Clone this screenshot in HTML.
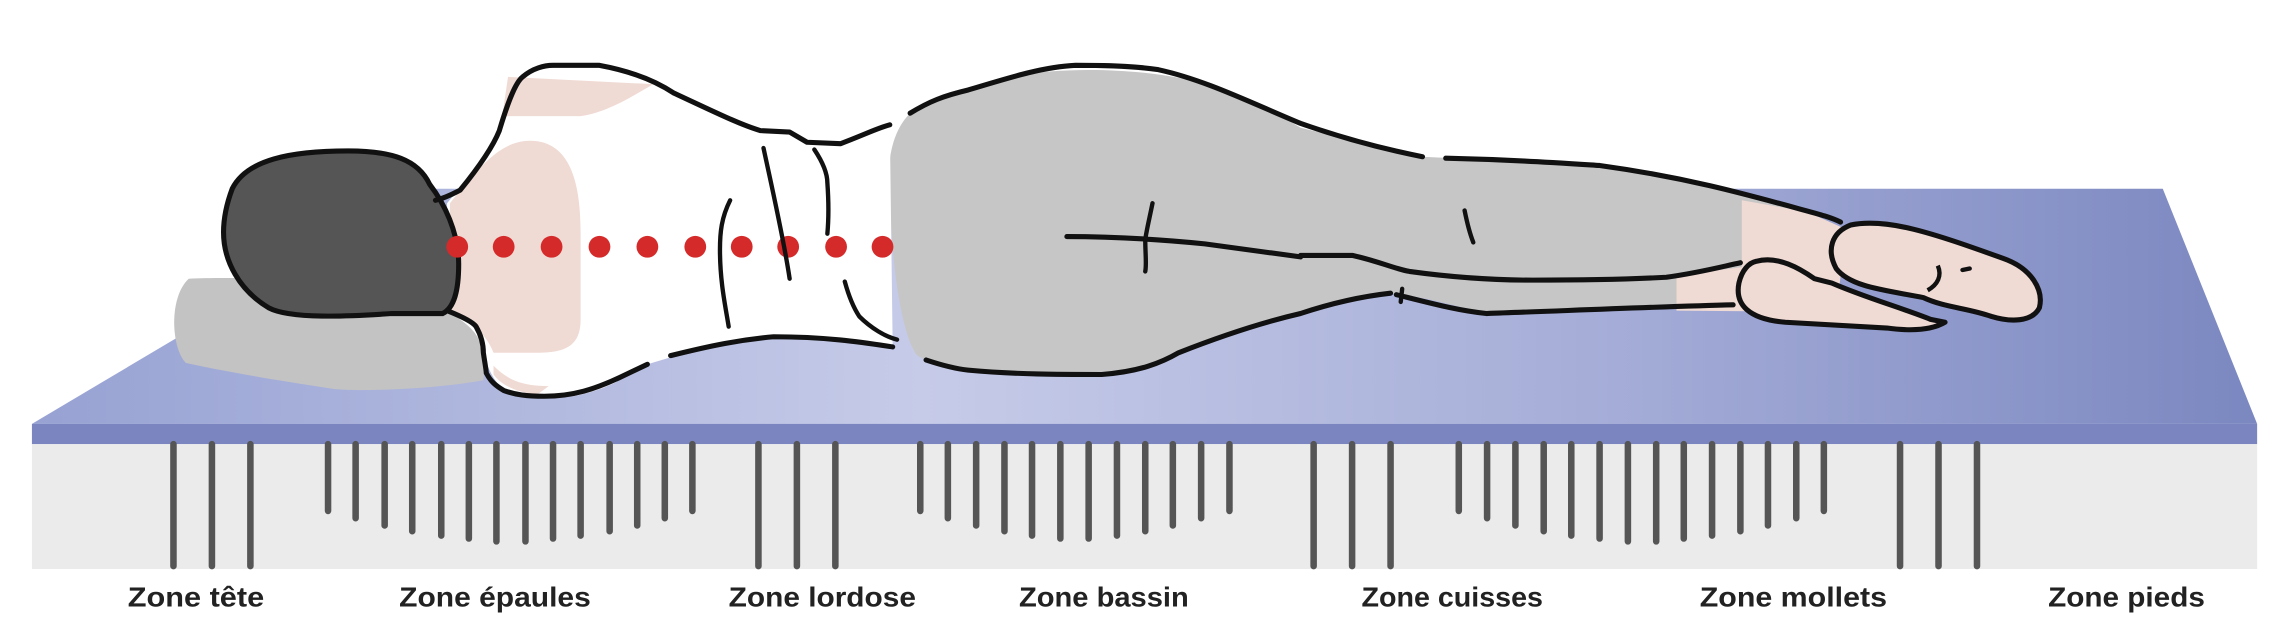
<!DOCTYPE html>
<html><head><meta charset="utf-8"><style>html,body{margin:0;padding:0;background:#fff;}svg{display:block}</style></head>
<body>
<svg width="2276" height="642" viewBox="0 0 1568 442.3" preserveAspectRatio="none" xmlns="http://www.w3.org/2000/svg">
<defs>
<linearGradient id="top" x1="0" x2="1" y1="0" y2="0">
<stop offset="0" stop-color="#97a2d3"/><stop offset="0.4" stop-color="#c6cbe8"/><stop offset="0.7" stop-color="#a6aed8"/><stop offset="1" stop-color="#7b87c0"/>
</linearGradient>
</defs>
<polygon points="295,130 1490,130 1555,292 22,292" fill="url(#top)"/>
<rect x="22" y="292" width="1533" height="14" fill="#7b86c0"/>
<rect x="22" y="306" width="1533" height="86" fill="#ebebeb"/>
<g stroke="#555" stroke-width="4.5" stroke-linecap="round" fill="none">
<path d="M119.5,306V390M146,306V390M172.5,306V390M522.5,306V390M549,306V390M575.5,306V390M905,306V390M931.5,306V390M958,306V390M1309,306V390M1335.5,306V390M1362,306V390"/>
<path d="M226,306V352M245,306V357M265,306V362M284,306V366M304,306V369M323,306V371M342,306V373M362,306V373M381,306V371M400,306V369M420,306V366M439,306V362M458,306V357M477,306V352"/>
<path d="M634,306V352M653,306V357M672.5,306V362M692,306V366M711,306V369M730.5,306V371M750,306V371M769.5,306V369M789,306V366M808,306V362M827.5,306V357M847,306V352"/>
<path d="M1005,306V352M1024.5,306V357M1044,306V362M1063.5,306V366M1082.5,306V369M1102,306V371M1121.5,306V373M1141,306V373M1160,306V371M1179.5,306V369M1199,306V366M1218,306V362M1237.5,306V357M1256.5,306V352"/>
</g>
<g font-family="Liberation Sans, sans-serif" font-weight="bold" font-size="19" fill="#222">
<text x="88" y="418" textLength="94" lengthAdjust="spacingAndGlyphs">Zone tête</text>
<text x="275" y="418" textLength="132" lengthAdjust="spacingAndGlyphs">Zone épaules</text>
<text x="502" y="418" textLength="129" lengthAdjust="spacingAndGlyphs">Zone lordose</text>
<text x="702" y="418" textLength="117" lengthAdjust="spacingAndGlyphs">Zone bassin</text>
<text x="938" y="418" textLength="125" lengthAdjust="spacingAndGlyphs">Zone cuisses</text>
<text x="1171" y="418" textLength="129" lengthAdjust="spacingAndGlyphs">Zone mollets</text>
<text x="1411" y="418" textLength="108" lengthAdjust="spacingAndGlyphs">Zone pieds</text>
</g>
<!-- pillow -->
<path d="M130,192 C180,190 280,195 320,205 C335,215 335,240 333,262 C300,268 250,270 230,268 C190,262 150,255 128,250 C118,240 116,205 130,192 Z" fill="#c3c3c3"/>
<!-- legs gray -->
<path d="M627,78 C640,70 667,62 700,52 C741,45 798,48 830,58 C860,68 880,78 896,88 L980,108 L1102,114 C1150,122 1200,135 1240,144 L1240,212 L1194,210 C1100,213 1060,216 1024,216 C1000,210 980,204 962,203 L958,202 C930,205 910,210 896,216 C850,230 812,243 790,252 C770,258 720,258 667,255 C650,252 640,250 632,245 C620,230 612,170 613,110 C615,95 620,85 627,78 Z" fill="#c6c6c6"/>
<!-- ankles skin -->
<path d="M1200,138 L1245,146 L1272,158 L1265,215 L1155,214 L1155,190 L1200,184 Z" fill="#f0dad4"/>
<!-- torso -->
<path d="M308,140 C325,120 340,95 350,70 C355,52 365,45 381,45 L413,45 C440,50 464,64 490,75 C510,85 524,90 544,91 L556,98 L579,99 L613,86 L615,239 C590,236 560,232 533,232 C500,236 475,242 446,251 C430,260 420,268 395,273 C375,273 360,270 347,269 C338,260 335,250 333,243 C330,230 325,225 308,214 Z" fill="#fff"/>
<path d="M350,53 L450,58 C430,70 415,78 400,80 L346,80 Z" fill="#f0dad4"/>
<path d="M310,140 C330,115 345,97 365,97 C390,97 400,120 400,160 L400,220 C400,238 390,243 370,243 L340,243 C335,230 325,222 310,216 Z" fill="#f0dad4"/>
<path d="M340,252 C350,262 360,266 378,266 L370,272 C355,270 345,265 340,258 Z" fill="#f0dad4"/>
<!-- head -->
<path d="M160,130 C170,110 200,104 240,104 C270,104 288,110 296,127 C306,140 316,160 316,182 C316,200 313,212 305,216 L270,216 C240,218 200,220 185,212 C165,200 154,180 154,160 C154,148 157,138 160,130 Z" fill="#555" stroke="#111" stroke-width="3.5"/>
<!-- dots -->
<g fill="#d42a2a">
<circle cx="315" cy="170" r="7.5"/><circle cx="347" cy="170" r="7.5"/><circle cx="380" cy="170" r="7.5"/><circle cx="413" cy="170" r="7.5"/><circle cx="446" cy="170" r="7.5"/><circle cx="479" cy="170" r="7.5"/><circle cx="511" cy="170" r="7.5"/><circle cx="543" cy="170" r="7.5"/><circle cx="576" cy="170" r="7.5"/><circle cx="608" cy="170" r="7.5"/>
</g>
<!-- outlines -->
<g fill="none" stroke="#111" stroke-width="3.5" stroke-linecap="round" stroke-linejoin="round">
<path d="M300,138 C308,136 313,133 317,131 C330,115 340,100 344,90 C350,70 355,57 360,53 C367,47 375,45 381,45 L413,45 C440,50 455,58 464,64 C490,76 510,86 524,90 L544,91 L556,98 L579,99 C595,93 605,88 613,86"/>
<path d="M308,214 C318,218 326,222 328,225 C332,232 333,238 333,243 C334,250 335,255 335,257 C338,263 342,266 347,269 C355,272 363,273 375,273 C395,273 410,268 427,260 L446,251"/>
<path d="M462,245 C490,238 510,234 533,232 C570,232 595,236 615,239"/>
<path d="M627,78 C640,70 650,66 667,62 C700,52 720,46 741,45 C770,45 785,46 798,48 C830,55 860,70 896,85 C930,97 960,104 980,108"/>
<path d="M996,109 C1040,110 1070,112 1102,114 C1160,122 1200,133 1240,144 C1255,148 1262,150 1268,153"/>
<path d="M638,248 C650,252 658,254 667,255 C700,258 730,258 759,258 C785,256 800,250 812,243 C840,232 870,222 896,216 C920,208 940,204 958,202"/>
<path d="M962,203 C990,210 1005,214 1024,216 C1080,214 1150,211 1194,210"/>
<path d="M896,176 L932,176 C950,180 960,185 971,187 C1000,191 1030,193 1056,193 C1100,193 1130,192 1148,191 C1170,188 1185,184 1199,181"/>
<path d="M735,163 C770,163 800,165 830,168 C860,172 880,175 896,177"/>
<path d="M794,140 C792,150 790,158 789,165 C789,175 790,182 789,187" stroke-width="3"/>
<path d="M1009,145 C1011,155 1013,162 1015,167" stroke-width="3"/>
<path d="M966,199 L965,208" stroke-width="3"/>
<path d="M503,138 C497,150 496,160 496,172 C496,195 500,212 502,225" stroke-width="3"/>
<path d="M526,102 C532,130 540,165 544,192" stroke-width="3"/>
<path d="M561,103 C567,112 570,120 570,126 C571,140 571,150 570,161" stroke-width="3"/>
<path d="M582,194 C585,205 588,212 592,218 C600,226 610,232 618,234" stroke-width="3"/>
</g>
<!-- feet -->
<path d="M1210,180 C1225,176 1240,185 1250,192 L1262,195 C1285,205 1310,212 1330,220 L1340,222 C1330,228 1315,228 1300,226 L1230,222 C1205,220 1195,210 1198,195 C1200,186 1205,181 1210,180 Z" fill="#f0dad4" stroke="#111" stroke-width="3.5" stroke-linejoin="round"/>
<path d="M1275,155 C1300,150 1330,160 1380,178 C1400,185 1408,200 1405,212 C1400,222 1385,222 1372,218 C1355,212 1340,212 1325,205 C1300,200 1275,198 1265,185 C1258,172 1262,160 1275,155 Z" fill="#f0dad4" stroke="#111" stroke-width="3.5" stroke-linejoin="round"/>
<path d="M1335,183 C1338,190 1335,196 1328,200" fill="none" stroke="#111" stroke-width="3"/>
<path d="M1352,186 L1357,185" stroke="#111" stroke-width="3" stroke-linecap="round"/>
</svg>
</body></html>
